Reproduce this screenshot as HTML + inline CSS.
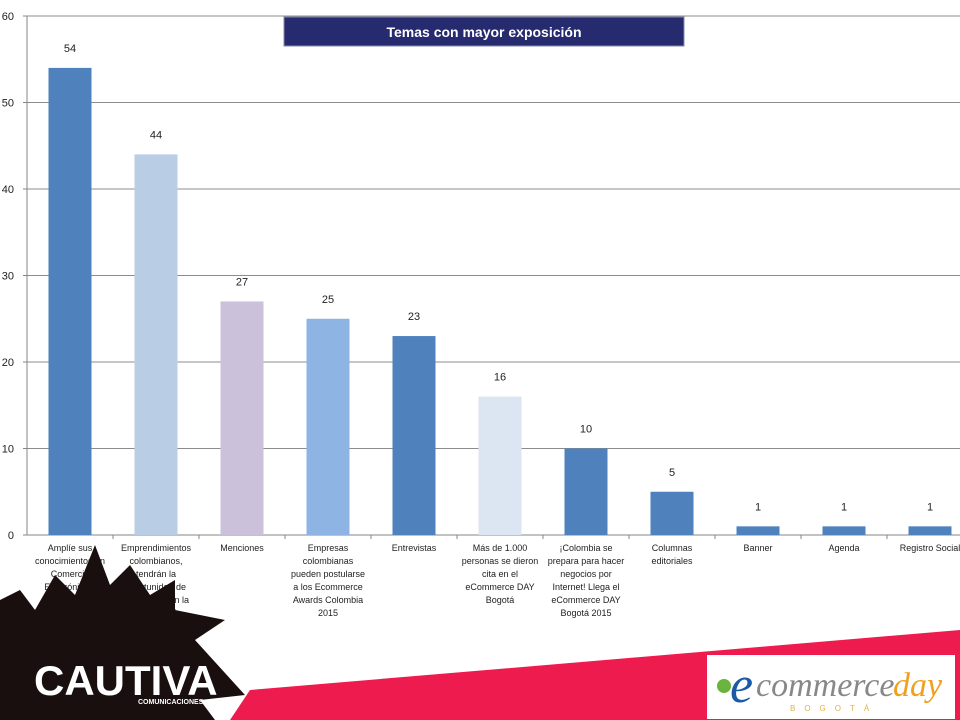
<!DOCTYPE html>
<html><head><meta charset="utf-8"><style>
body{margin:0;width:960px;height:720px;overflow:hidden;background:#fff;font-family:"Liberation Sans",sans-serif}
</style></head><body>
<svg id="c" width="960" height="720" style="position:absolute;left:0;top:0">
<polygon points="230,720 250,690 960,630 960,720" fill="#ee1c4e"/>
<g id="grid"></g><g id="bars"></g><g id="labels"></g>
<rect x="284" y="17" width="400" height="29" fill="#262a6e" stroke="#8a8ab0"/>
<text x="484" y="37" text-anchor="middle" fill="#fff" font-weight="bold" font-size="14">Temas con mayor exposición</text>
<g>
<polygon fill="#1a0f0f" points="0,600 20,590 35,610 55,575 75,595 95,545 110,585 130,565 150,595 175,580 175,610 225,620 195,640 245,695 200,700 215,720 0,720"/>
<text x="34" y="695" fill="#fff" font-weight="bold" font-size="42" font-family="Liberation Sans">CAUTIVA</text>
<text x="138" y="704" fill="#fff" font-weight="bold" font-size="7">COMUNICACIONES</text>
</g>
<g>
<rect x="707" y="655" width="248" height="64" fill="#fff"/>
<circle cx="724" cy="686" r="7" fill="#6ab43e"/>
<text x="730" y="702" font-size="52" font-style="italic" fill="#1a5aa6" font-family="Liberation Serif">e</text>
<text x="756" y="696" font-size="34" fill="#888" font-family="Liberation Serif" font-style="italic">commerce</text>
<text x="893" y="696" font-size="34" fill="#f0a020" font-family="Liberation Serif" font-style="italic">day</text>
<text x="790" y="711" font-size="8" fill="#e0b050" style="letter-spacing:9px">BOGOTÁ</text>
</g>
</svg>
<script>
const categories=[["Amplíe sus","conocimientos en","Comercio","Electrónico y","Negocios por","Internet durante el","eCommerce DAY","Bogotá 2015"],["Emprendimientos","colombianos,","tendrán la","oportunidad de","destacarse en la","competencia","eCommerce Startup","Competition 2015"],["Menciones"],["Empresas","colombianas","pueden postularse","a los Ecommerce","Awards Colombia","2015"],["Entrevistas"],["Más de 1.000","personas se dieron","cita en el","eCommerce DAY","Bogotá"],["¡Colombia se","prepara para hacer","negocios por","Internet! Llega el","eCommerce DAY","Bogotá 2015"],["Columnas","editoriales"],["Banner"],["Agenda"],["Registro Social"]];
const values=[54,44,27,25,23,16,10,5,1,1,1];
const colors=["#4f81bd","#b9cde5","#ccc1da","#8eb4e3","#4f81bd","#dce6f2","#4f81bd","#4f81bd","#4f81bd","#4f81bd","#4f81bd"];
const yTicks=[0,10,20,30,40,50,60];
const NS="http://www.w3.org/2000/svg";
const x0=27,step=86,yb=535,yt=16,ymax=60;
const y=v=>yb-(v/ymax)*(yb-yt);
const xc=i=>x0+step*i+step/2;
function mk(t,a,p){const e=document.createElementNS(NS,t);for(const k in a)e.setAttribute(k,a[k]);p.appendChild(e);return e;}
const g=document.getElementById('grid'),b=document.getElementById('bars'),l=document.getElementById('labels');
yTicks.forEach(t=>{
 const ln=mk('line',{x1:x0,x2:960,y1:y(t),y2:y(t),stroke:t?'#8c8c8c':'#868686','stroke-width':1},g);
 
 
 const tx=mk('text',{x:14,y:y(t)+4,'text-anchor':'end','font-size':11,fill:'#222'},g);
 tx.textContent=t;
 
 
 mk('line',{x1:x0-4,x2:x0,y1:y(t),y2:y(t),stroke:'#868686'},g);
});
mk('line',{x1:x0,x2:x0,y1:yt,y2:yb,stroke:'#868686'},g);
values.forEach((v,i)=>{
 const r=mk('rect',{x:xc(i)-21.5,y:y(v),width:43,height:yb-y(v),fill:colors[i]},b);
 
 
 const vt=mk('text',{x:xc(i),y:y(v)-16,'text-anchor':'middle','font-size':11,fill:'#222'},l);
 vt.textContent=v;
 
 
 mk('line',{x1:x0+step*(i+1),x2:x0+step*(i+1),y1:yb,y2:yb+4,stroke:'#868686'},g);
 categories[i].forEach((s,k)=>{
  const ct=mk('text',{x:xc(i),y:yb+16+k*13,'text-anchor':'middle','font-size':9,fill:'#222'},l);
  ct.textContent=s;
  
  
 });
});
</script>
</body></html>
